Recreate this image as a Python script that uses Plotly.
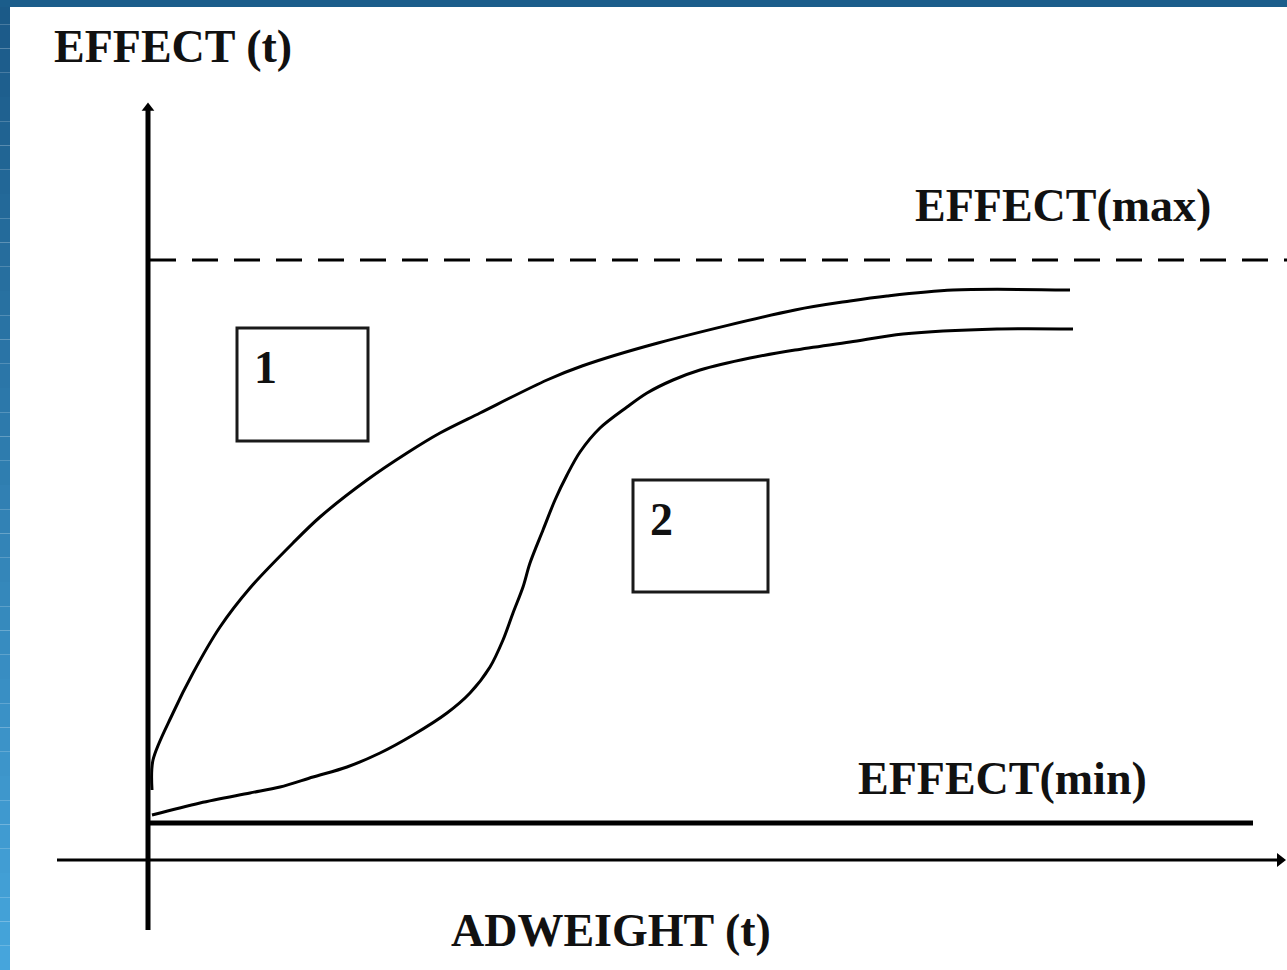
import plotly.graph_objects as go

# =========================
# DATA (schematic units: origin where the axes cross)
# =========================
curve1_x = [0.04, 0.05, 0.25, 0.45, 0.72, 1.02, 1.45, 1.72, 2.19, 2.59, 2.92, 3.32,
            3.99, 4.34, 5.10, 6.47, 7.02, 7.39, 8.05, 9.22]
curve1_y = [0.70, 1.00, 1.47, 1.87, 2.33, 2.72, 3.17, 3.43, 3.80, 4.07, 4.27, 4.47,
            4.80, 4.94, 5.17, 5.50, 5.59, 5.64, 5.70, 5.70]

curve2_x = [0.04, 0.52, 1.02, 1.32, 1.65, 1.99, 2.32, 2.65, 2.99, 3.22, 3.42, 3.55,
            3.65, 3.75, 3.82, 3.95, 4.07, 4.19, 4.32, 4.52, 4.79, 4.99, 5.25, 5.52,
            6.02, 6.47, 7.02, 7.55, 8.49, 9.25]
curve2_y = [0.45, 0.57, 0.67, 0.73, 0.83, 0.93, 1.07, 1.25, 1.47, 1.67, 1.93, 2.20,
            2.47, 2.73, 2.97, 3.30, 3.60, 3.85, 4.08, 4.32, 4.53, 4.67, 4.80, 4.90,
            5.02, 5.10, 5.18, 5.26, 5.31, 5.31]

effect_max = 6.00
effect_min = 0.37
min_line_x = [0.02, 11.05]
max_line_x = [0.02, 11.45]
y_axis_y = [-0.70, 7.50]
x_axis_x = [-0.91, 11.30]

box_labels = ["1", "2"]
box_x0 = [0.89, 4.85]
box_x1 = [2.20, 6.20]
box_y0 = [4.19, 2.68]
box_y1 = [5.32, 3.80]

FONT = "Liberation Serif"
INK = "#111111"

fig = go.Figure()

# =========================
# BLUE FRAME (gradient)
# =========================
top_rgb = (27, 90, 136)
bot_rgb = (70, 165, 220)
n = 40
for i in range(n):
    t = i / (n - 1)
    c = tuple(int(top_rgb[k] + (bot_rgb[k] - top_rgb[k]) * t) for k in range(3))
    fig.add_shape(type="rect", xref="paper", yref="paper",
                  x0=0, x1=10 / 1287, y0=1 - (i + 1) / n, y1=1 - i / n,
                  fillcolor="rgb(%d,%d,%d)" % c, line_width=0, layer="below")
fig.add_shape(type="rect", xref="paper", yref="paper",
              x0=0, x1=1, y0=1 - 7 / 970, y1=1,
              fillcolor="#1b5d8b", line_width=0, layer="below")

# =========================
# AXES
# =========================
fig.add_trace(go.Scatter(x=[0, 0], y=y_axis_y, mode="lines",
                         line=dict(color="black", width=5)))
fig.add_trace(go.Scatter(x=[0], y=[y_axis_y[1] + 0.02], mode="markers",
                         marker=dict(symbol="triangle-up", size=11, color="black")))
fig.add_trace(go.Scatter(x=x_axis_x, y=[0, 0], mode="lines",
                         line=dict(color="black", width=3)))
fig.add_trace(go.Scatter(x=[x_axis_x[1] + 0.02], y=[0], mode="markers",
                         marker=dict(symbol="triangle-right", size=12, color="black")))

# =========================
# MIN / MAX LEVELS
# =========================
fig.add_trace(go.Scatter(x=min_line_x, y=[effect_min] * 2, mode="lines",
                         line=dict(color="black", width=5)))
fig.add_trace(go.Scatter(x=max_line_x, y=[effect_max] * 2, mode="lines",
                         line=dict(color="black", width=3, dash="26px,16px")))

# =========================
# CURVES
# =========================
fig.add_trace(go.Scatter(x=curve1_x, y=curve1_y, mode="lines",
                         line=dict(color="black", width=3, shape="spline", smoothing=0.9)))
fig.add_trace(go.Scatter(x=curve2_x, y=curve2_y, mode="lines",
                         line=dict(color="black", width=3, shape="spline", smoothing=0.9)))

# =========================
# BOXES
# =========================
for lab, a0, a1, b0, b1 in zip(box_labels, box_x0, box_x1, box_y0, box_y1):
    fig.add_shape(type="rect", x0=a0, x1=a1, y0=b0, y1=b1,
                  line=dict(color="#1a1a1a", width=3), fillcolor="rgba(0,0,0,0)")
    fig.add_annotation(x=a0 + 0.15, y=b1 - 0.12, text="<b>%s</b>" % lab,
                       xanchor="left", yanchor="top", showarrow=False,
                       font=dict(family=FONT, size=46, color=INK))

# =========================
# LABELS
# =========================
def label(x, y, text):
    fig.add_annotation(x=x, y=y, text="<b>%s</b>" % text, showarrow=False,
                       xanchor="center", yanchor="middle",
                       font=dict(family=FONT, size=46, color=INK))

label(0.25, 8.14, "EFFECT (t)")
label(9.15, 6.55, "EFFECT(max)")
label(8.54, 0.82, "EFFECT(min)")
label(4.63, -0.70, "ADWEIGHT (t)")

# =========================
# LAYOUT
# =========================
fig.update_layout(
    width=1287, height=970,
    margin=dict(l=0, r=0, t=0, b=0),
    paper_bgcolor="white", plot_bgcolor="white",
    xaxis=dict(visible=False, range=[-1.48, 11.39], fixedrange=True),
    yaxis=dict(visible=False, range=[-1.10, 8.60], fixedrange=True),
    showlegend=False,
)

fig.write_html("out.html", config={"displayModeBar": False},
               post_script="document.body.style.margin='0px';")
